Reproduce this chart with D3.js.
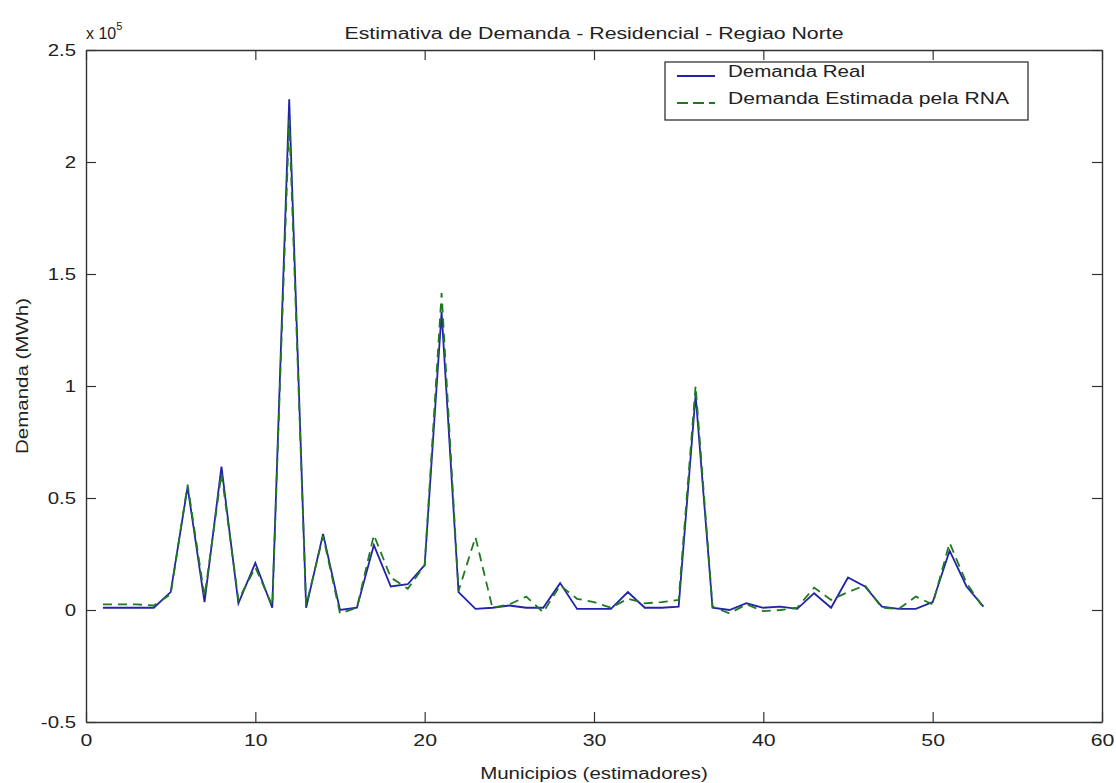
<!DOCTYPE html>
<html>
<head>
<meta charset="utf-8">
<script src="https://cdn.jsdelivr.net/npm/d3@7"></script>
<style>
  body { margin: 0; background: #fff; }
  text { font-family: "Liberation Sans", Arial, sans-serif; fill: #222; }
</style>
</head>
<body>
<svg id="chart"></svg>
<script>
// municipios (x) and demanda values in MWh
var municipios = [1, 2, 3, 4, 5, 6, 7, 8, 9, 10, 11, 12, 13, 14, 15, 16, 17, 18, 19, 20,
  21, 22, 23, 24, 25, 26, 27, 28, 29, 30, 31, 32, 33, 34, 35, 36, 37, 38, 39, 40,
  41, 42, 43, 44, 45, 46, 47, 48, 49, 50, 51, 52, 53];

var demandaReal = [1000, 1000, 1000, 1000, 8000, 55000, 3500, 64000, 3000, 21000,
  1000, 228000, 1000, 34000, 0, 1000, 29000, 10500, 11500, 20000,
  133000, 8000, 500, 1000, 2000, 1000, 1000, 12000, 500, 500,
  500, 8000, 1000, 1000, 1500, 96000, 1000, 0, 3000, 1000,
  1500, 500, 7500, 1000, 14500, 10500, 1500, 500, 500, 3500,
  26500, 10500, 1500];

var demandaRNA = [2500, 2500, 2500, 2000, 7000, 56000, 6000, 61000, 4500, 19000,
  2000, 219000, 2000, 33000, -1500, 1000, 33500, 14500, 9500, 20000,
  141500, 8500, 32500, 1000, 2500, 6000, -1000, 11000, 5000, 3500,
  1000, 5000, 3000, 3500, 4500, 100000, 1500, -1500, 2500, -500,
  0, 1000, 10000, 4500, 8000, 11000, 1000, 500, 6000, 2500,
  30000, 12000, 1000];

var xTicks = [0, 10, 20, 30, 40, 50, 60];
var yTicks = [-50000, 0, 50000, 100000, 150000, 200000, 250000];

var W = 1116, H = 783;
var margin = { top: 50, right: 14, bottom: 61, left: 86 };
var width = W - margin.left - margin.right;
var height = H - margin.top - margin.bottom;

var svg = d3.select("#chart").attr("width", W).attr("height", H);
svg.append("rect").attr("width", W).attr("height", H).attr("fill", "#fff");

var g = svg.append("g").attr("transform", "translate(" + margin.left + "," + margin.top + ")");

var x = d3.scaleLinear().domain([0, 60]).range([0, width]);
var y = d3.scaleLinear().domain([-50000, 250000]).range([height, 0]);

// stretch text so it gets the wide look of the old figure font
function stretch(sel, k) {
  sel.each(function () {
    var w = this.getComputedTextLength();
    d3.select(this).attr("textLength", w * k).attr("lengthAdjust", "spacingAndGlyphs");
  });
}

var axisColor = "#333";

// axes (ticks inside)
var xAxis = g.append("g").attr("transform", "translate(0," + height + ")")
  .call(d3.axisBottom(x).tickValues(xTicks).tickSizeInner(-10).tickSizeOuter(0).tickPadding(12));
var yAxis = g.append("g")
  .call(d3.axisLeft(y).tickValues(yTicks).tickSizeInner(-10).tickSizeOuter(0).tickPadding(10)
    .tickFormat(function (d) { return d === 0 ? "0" : String(d / 1e5); }));
var xTop = g.append("g")
  .call(d3.axisTop(x).tickValues(xTicks).tickSizeInner(-10).tickSizeOuter(0).tickFormat(""));
var yRight = g.append("g").attr("transform", "translate(" + width + ",0)")
  .call(d3.axisRight(y).tickValues(yTicks).tickSizeInner(-10).tickSizeOuter(0).tickFormat(""));

[xAxis, yAxis, xTop, yRight].forEach(function (a) {
  a.selectAll(".domain").attr("stroke", axisColor).attr("stroke-width", 1.4);
  a.selectAll(".tick line").attr("stroke", axisColor).attr("stroke-width", 1.2);
  a.selectAll(".tick text").attr("font-size", 17).attr("fill", "#333")
    .style("font-family", "'Liberation Sans', Arial, sans-serif");
});
xAxis.selectAll(".tick text").call(stretch, 1.25);
yAxis.selectAll(".tick text").call(stretch, 1.2);

// lines
var pts = function (vals) { return municipios.map(function (m, i) { return [m, vals[i]]; }); };
var line = d3.line().x(function (d) { return x(d[0]); }).y(function (d) { return y(d[1]); });

g.append("path").datum(pts(demandaReal))
  .attr("d", line).attr("fill", "none")
  .attr("stroke", "#2222aa").attr("stroke-width", 1.8);

g.append("path").datum(pts(demandaRNA))
  .attr("d", line).attr("fill", "none")
  .attr("stroke", "#1f7a1f").attr("stroke-width", 1.8)
  .attr("stroke-dasharray", "9,6");

// titles
svg.append("text").attr("x", margin.left + width / 2).attr("y", 39)
  .attr("text-anchor", "middle").attr("font-size", 16)
  .text("Estimativa de Demanda - Residencial - Regiao Norte")
  .attr("textLength", 499).attr("lengthAdjust", "spacingAndGlyphs");

svg.append("text").attr("x", margin.left + width / 2).attr("y", 779)
  .attr("text-anchor", "middle").attr("font-size", 16)
  .text("Municipios (estimadores)")
  .call(stretch, 1.28);

svg.append("text").attr("transform", "translate(28," + (margin.top + height / 2 - 10) + ") rotate(-90)")
  .attr("text-anchor", "middle").attr("font-size", 16)
  .text("Demanda (MWh)")
  .attr("textLength", 156).attr("lengthAdjust", "spacingAndGlyphs");

// exponent label
var expo = svg.append("text").attr("x", 86).attr("y", 39).attr("font-size", 16);
expo.append("tspan").text("x 10");
expo.append("tspan").attr("dy", -9).attr("font-size", 11).text("5");

// legend
var leg = svg.append("g").attr("transform", "translate(665,62)");
leg.append("rect").attr("width", 363).attr("height", 58)
  .attr("fill", "#fff").attr("stroke", "#222").attr("stroke-width", 1.2);
var legItems = [
  { label: "Demanda Real", color: "#2222aa", dash: null, w: 137 },
  { label: "Demanda Estimada pela RNA", color: "#1f7a1f", dash: "11,5", w: 281 }
];
legItems.forEach(function (it, i) {
  var yy = 14 + i * 27;
  leg.append("line").attr("x1", 12).attr("x2", 50).attr("y1", yy).attr("y2", yy)
    .attr("stroke", it.color).attr("stroke-width", 1.8)
    .attr("stroke-dasharray", it.dash);
  leg.append("text").attr("x", 63).attr("y", yy + 1).attr("font-size", 16)
    .text(it.label).attr("textLength", it.w).attr("lengthAdjust", "spacingAndGlyphs");
});
</script>
</body>
</html>
